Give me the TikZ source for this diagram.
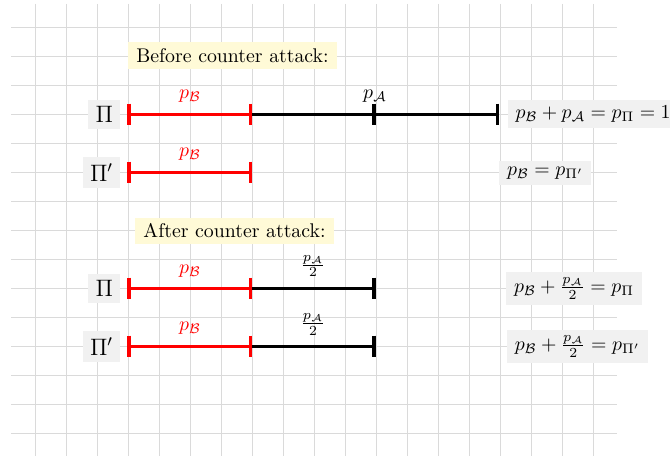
\documentclass[tikz,border=0pt]{standalone}
\usepackage{amsmath}
\definecolor{gridgray}{RGB}{218,218,218}
\definecolor{boxgray}{RGB}{241,241,241}
\definecolor{headyellow}{RGB}{255,250,215}
\newcommand\mytick[2]{\draw[#1] ([yshift=5.45pt]#2) -- ([yshift=-5.45pt]#2);}
\begin{document}
\begin{tikzpicture}[x=0.505pt,y=-0.505pt,
  gridline/.style={draw=gridgray,line width=0.505pt},
  redseg/.style={draw=red,line width=1.65pt},
  blkseg/.style={draw=black,line width=1.65pt},
  eqbox/.style={fill=boxgray,inner xsep=4pt,inner ysep=3pt},
  headbox/.style={fill=headyellow,inner xsep=4pt,inner ysep=3pt},
  pibox/.style={fill=boxgray,inner xsep=3.6pt,inner ysep=3.3pt,font=\large},
  seglabel/.style={inner sep=1pt}]
\useasboundingbox (0,0) rectangle (670,456);
% grid
\foreach \i in {0,...,18}{
  \draw[gridline] ({35.5+31*\i},4) -- ({35.5+31*\i},456);
}
\foreach \j in {0,...,14}{
  \draw[gridline] (11,{27.5+29*\j}) -- (617,{27.5+29*\j});
}
% headings
\node[headbox] (head1) at (232.5,55.5) {Before counter attack:};
\node[headbox] (head2) at (234.5,231) {After counter attack:};
% row coordinates
\coordinate (a1) at (129,114.5);   \coordinate (b1) at (250.5,114.5);
\coordinate (c1) at (374,114.5);   \coordinate (d1) at (497.5,114.5);
\coordinate (a2) at (129,172.5);   \coordinate (b2) at (250.5,172.5);
\coordinate (a3) at (129,288.5);   \coordinate (b3) at (250.5,288.5);
\coordinate (c3) at (374,288.5);
\coordinate (a4) at (129,346.5);   \coordinate (b4) at (250.5,346.5);
\coordinate (c4) at (374,346.5);
% Pi nodes
\node[pibox] (P1) at (104.3,114.2) {$\Pi$};
\node[pibox] (P2) at (101.5,172.4) {$\Pi'$};
\node[pibox] (P3) at (104.3,288.8) {$\Pi$};
\node[pibox] (P4) at (101.5,346.6) {$\Pi'$};
% row 1
\draw[blkseg] (b1) -- (d1);
\draw[redseg] (a1) -- (b1);
\mytick{redseg}{a1}\mytick{redseg}{b1}
\mytick{blkseg}{c1}\mytick{blkseg}{d1}
\node[seglabel,text=red] (lB1) at (190,96.5) {$p_{\mathcal{B}}$};
\node[seglabel] (lA1) at (375,96.5) {$p_{\mathcal{A}}$};
\node[eqbox,anchor=west] (eq1) at (507.3,114.2) {$p_{\mathcal{B}}+p_{\mathcal{A}}=p_{\Pi}=1$};
% row 2
\draw[redseg] (a2) -- (b2);
\mytick{redseg}{a2}\mytick{redseg}{b2}
\node[seglabel,text=red] (lB2) at (190,154.5) {$p_{\mathcal{B}}$};
\node[eqbox] (eq2) at (545.3,172.8) {$p_{\mathcal{B}}=p_{\Pi'}$};
% row 3
\draw[blkseg] (b3) -- (c3);
\draw[redseg] (a3) -- (b3);
\mytick{redseg}{a3}\mytick{redseg}{b3}
\mytick{blkseg}{c3}
\node[seglabel,text=red] (lB3) at (190,271) {$p_{\mathcal{B}}$};
\node[seglabel] (lA3) at (313,266) {$\frac{p_{\mathcal{A}}}{2}$};
\node[eqbox] (eq3) at (574,288.3) {$p_{\mathcal{B}}+\frac{p_{\mathcal{A}}}{2}=p_{\Pi}$};
% row 4
\draw[blkseg] (b4) -- (c4);
\draw[redseg] (a4) -- (b4);
\mytick{redseg}{a4}\mytick{redseg}{b4}
\mytick{blkseg}{c4}
\node[seglabel,text=red] (lB4) at (190,328) {$p_{\mathcal{B}}$};
\node[seglabel] (lA4) at (313,324.7) {$\frac{p_{\mathcal{A}}}{2}$};
\node[eqbox] (eq4) at (577.5,346.7) {$p_{\mathcal{B}}+\frac{p_{\mathcal{A}}}{2}=p_{\Pi'}$};
\end{tikzpicture}
\end{document}
